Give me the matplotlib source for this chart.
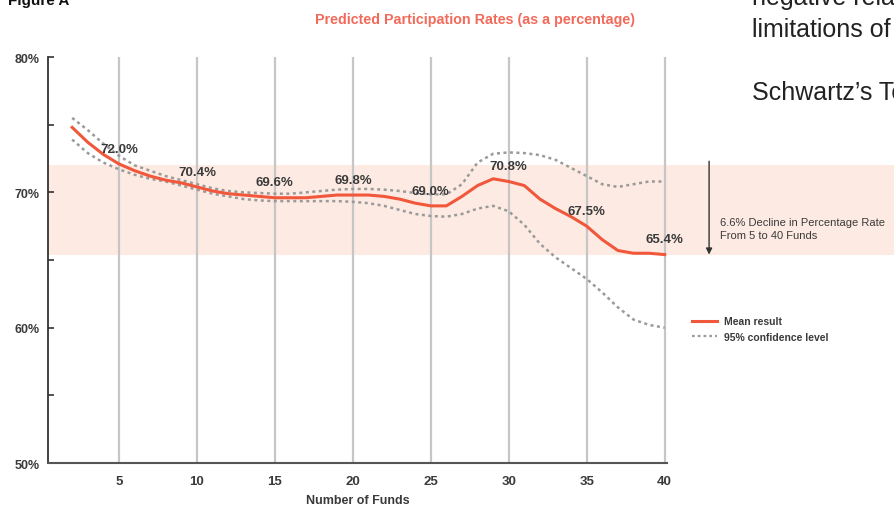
import matplotlib.pyplot as plt
from matplotlib.lines import Line2D
from matplotlib.patches import Rectangle
import matplotlib.transforms as mtransforms

# datos
funds = list(range(2, 41))
mean_rate = [74.8, 73.7, 72.8, 72.1, 71.6, 71.2, 70.9, 70.7, 70.4, 70.1,
             69.9, 69.8, 69.7, 69.6, 69.6, 69.6, 69.7, 69.8, 69.8, 69.8,
             69.7, 69.5, 69.2, 69.0, 69.0, 69.7, 70.5, 71.0, 70.8, 70.5,
             69.5, 68.8, 68.2, 67.5, 66.5, 65.7, 65.5, 65.5, 65.4]
upper_ci = [75.5, 74.6, 73.6, 72.7, 72.0, 71.6, 71.2, 70.9, 70.6, 70.3,
            70.1, 70.0, 69.95, 69.9, 69.9, 70.0, 70.1, 70.2, 70.25, 70.25,
            70.2, 70.1, 69.95, 69.85, 69.85, 70.6, 72.2, 72.85, 72.95, 72.9,
            72.75, 72.4, 71.8, 71.2, 70.6, 70.4, 70.6, 70.8, 70.8]
lower_ci = [73.9, 72.9, 72.2, 71.7, 71.3, 71.0, 70.8, 70.5, 70.2, 69.9,
            69.7, 69.5, 69.4, 69.35, 69.35, 69.35, 69.35, 69.35, 69.3, 69.2,
            69.0, 68.7, 68.4, 68.25, 68.2, 68.4, 68.8, 69.0, 68.6, 67.6,
            66.2, 65.2, 64.4, 63.6, 62.6, 61.5, 60.6, 60.2, 60.0]

label_x = [5, 10, 15, 20, 25, 30, 35, 40]
label_txt = ['72.0%', '70.4%', '69.6%', '69.8%', '69.0%', '70.8%', '67.5%', '65.4%']
band_low, band_high = 65.4, 72.0

x_ticks = [5, 10, 15, 20, 25, 30, 35, 40]
y_ticks = [50, 60, 70, 80]
y_minor = [55, 65, 75]

cond = ['Liberation Sans', 'DejaVu Sans']
red = '#f0573b'
grey = '#9a9a9a'
dark = '#3a3a3a'

fig = plt.figure(figsize=(8.95, 5.10), dpi=100)
ax = fig.add_axes([48 / 895, 46 / 510, 619 / 895, 406 / 510])

# banda sombreada (se extiende hasta el borde derecho)
trans = mtransforms.blended_transform_factory(ax.transAxes, ax.transData)
ax.add_patch(Rectangle((0, band_low), 1.5, band_high - band_low, transform=trans,
                       facecolor='#fdebe3', edgecolor='none', clip_on=False, zorder=0))

for xv in x_ticks:
    ax.axvline(xv, color='#c6c6c6', lw=1.6, zorder=1)

ax.plot(funds, upper_ci, color=grey, lw=1.8, linestyle=(0, (1.2, 1.4)), zorder=2)
ax.plot(funds, lower_ci, color=grey, lw=1.8, linestyle=(0, (1.2, 1.4)), zorder=2)
ax.plot(funds, mean_rate, color=red, lw=2.2, zorder=3)

for xv, t in zip(label_x, label_txt):
    yv = mean_rate[funds.index(xv)]
    ax.annotate(t, (xv, yv), xytext=(0, 11), textcoords='offset points',
                ha='center', va='center', fontsize=9.5, family=cond,
                fontweight='bold', color=dark, zorder=4)

ax.set_xlim(0.45, 40.15)
ax.set_ylim(50, 80)
ax.set_xticks(x_ticks)
ax.set_xticklabels([str(v) for v in x_ticks], family=cond, fontweight='bold',
                   fontsize=9.5, color=dark)
ax.set_yticks(y_ticks)
ax.set_yticklabels([f'{v}%' for v in y_ticks], family=cond, fontweight='bold',
                   fontsize=9, color=dark)
ax.set_yticks(y_minor, minor=True)
ax.tick_params(axis='x', length=0, pad=9)
ax.tick_params(axis='y', which='both', direction='in', length=4, width=1.2,
               color='#333333', pad=6)
for s in ['top', 'right']:
    ax.spines[s].set_visible(False)
ax.spines['left'].set_color('#333333')
ax.spines['bottom'].set_color('#555555')
ax.spines['left'].set_linewidth(1.3)
ax.spines['bottom'].set_linewidth(1.5)
ax.set_xlabel('Number of Funds', family=cond, fontweight='bold', fontsize=9,
              color=dark, labelpad=5)

# flecha de caida
ax.annotate('', xy=(1.068, 65.4), xytext=(1.068, 72.3), xycoords=trans,
            textcoords=trans, annotation_clip=False,
            arrowprops=dict(arrowstyle='-|>', color='#333333', lw=1,
                            mutation_scale=9, shrinkA=0, shrinkB=0))
ax.text(1.086, 67.3, '6.6% Decline in Percentage Rate\nFrom 5 to 40 Funds',
        transform=trans, ha='left', va='center', fontsize=8, family=cond,
        color=dark, linespacing=1.35)

handles = [Line2D([], [], color=red, lw=2.2),
           Line2D([], [], color=grey, lw=1.6, linestyle=(0, (1.2, 1.4)))]
fig.legend(handles, ['Mean result', '95% confidence level'], loc='upper left',
           bbox_to_anchor=(683 / 895, 1 - 308 / 510), frameon=False,
           prop={'family': cond, 'size': 7.5, 'weight': 'bold'},
           handlelength=2.4, handletextpad=0.6, labelspacing=0.55,
           labelcolor=dark)

fig.text(475 / 895, 1 - 20 / 510, 'Predicted Participation Rates (as a percentage)',
         ha='center', va='center', fontsize=10.3, fontweight='bold',
         color='#f26a5a', family=['Liberation Sans', 'DejaVu Sans'])
fig.text(8 / 895, 1 - 5 / 510, 'Figure A', ha='left', va='baseline', fontsize=11,
         fontweight='bold', color='#111111', family=['Liberation Sans', 'DejaVu Sans'])

# texto de la pagina alrededor
page = ['Liberation Sans', 'DejaVu Sans']
fig.text(752 / 895, 1 - 5 / 510, 'negative rela', ha='left', va='baseline',
         fontsize=18, color='#222222', family=page)
fig.text(752 / 895, 1 - 37 / 510, 'limitations of', ha='left', va='baseline',
         fontsize=18, color='#222222', family=page)
fig.text(752 / 895, 1 - 100 / 510, 'Schwartz\u2019s To', ha='left', va='baseline',
         fontsize=18, color='#222222', family=page)

fig.savefig('out.png', dpi=100)
